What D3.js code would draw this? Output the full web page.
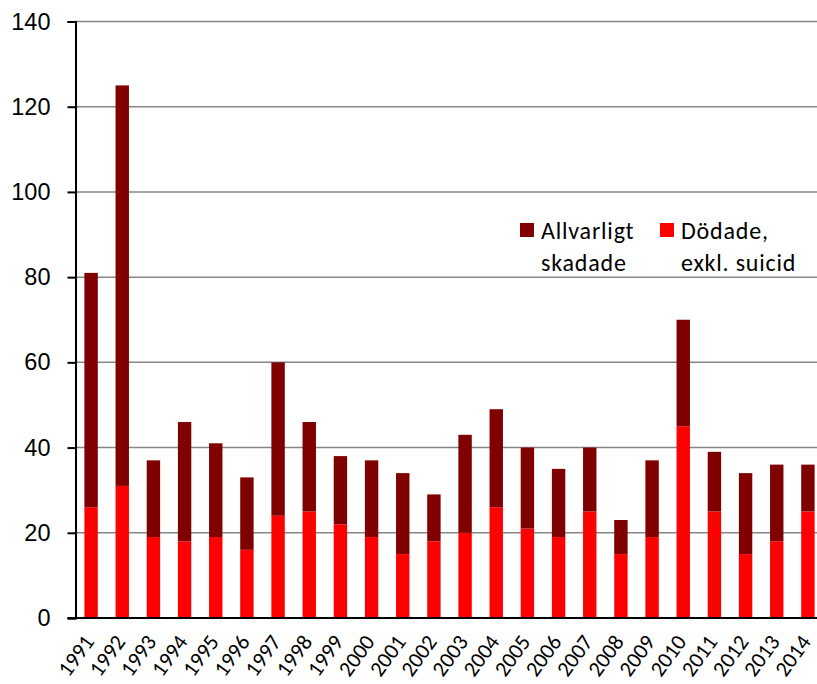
<!DOCTYPE html>
<html>
<head>
<meta charset="utf-8">
<script src="https://cdn.jsdelivr.net/npm/d3@7"></script>
<style>
  body { margin: 0; background: #fff; }
  svg { display: block; font-family: Carlito, "Open Sans", "Noto Sans", sans-serif; }
</style>
</head>
<body>
<svg id="chart" width="817" height="684"></svg>
<script>
// years on the x axis
var years = ["1991","1992","1993","1994","1995","1996","1997","1998","1999","2000",
             "2001","2002","2003","2004","2005","2006","2007","2008","2009","2010",
             "2011","2012","2013","2014"];
// killed, excluding suicide (bottom segment)
var dodade = [26, 31, 19, 18, 19, 16, 24, 25, 22, 19, 15, 18, 20, 26, 21, 19, 25, 15, 19, 45, 25, 15, 18, 25];
// seriously injured (stacked on top)
var allvarligt = [55, 94, 18, 28, 22, 17, 36, 21, 16, 18, 19, 11, 23, 23, 19, 16, 15, 8, 18, 25, 14, 19, 18, 11];
var yTicks = [0, 20, 40, 60, 80, 100, 120, 140];

var svg = d3.select("#chart");
var margin = { top: 21.5, left: 75.5, bottom: 66, right: -6.5 };
var width = 817 - margin.left - margin.right,
    height = 684 - margin.top - margin.bottom;

var x = d3.scaleBand().domain(years).range([0, width]).paddingInner(0.57).paddingOuter(0.285);
var y = d3.scaleLinear().domain([0, 140]).range([height, 0]);

var g = svg.append("g").attr("transform", "translate(" + margin.left + "," + margin.top + ")");

// gridlines
g.selectAll(".grid").data(yTicks.slice(1)).enter().append("line")
    .attr("x1", 0).attr("x2", width)
    .attr("y1", d => y(d)).attr("y2", d => y(d))
    .attr("stroke", "#868686").attr("stroke-width", 1.5);

var rows = years.map((yr, i) => ({ year: yr, dodade: dodade[i], allvarligt: allvarligt[i] }));
var stack = d3.stack().keys(["dodade", "allvarligt"])(rows);
var colors = { dodade: "#ff0000", allvarligt: "#800000" };

g.selectAll(".series").data(stack).enter().append("g")
    .attr("fill", d => colors[d.key])
  .selectAll("rect").data(d => d).enter().append("rect")
    .attr("x", d => x(d.data.year))
    .attr("width", x.bandwidth())
    .attr("y", d => y(d[1]))
    .attr("height", d => y(d[0]) - y(d[1]));

// y axis
var yAxis = g.append("g").call(d3.axisLeft(y).tickValues(yTicks).tickSize(8).tickPadding(17));
yAxis.select(".domain").attr("stroke", "#000").attr("stroke-width", 2);
yAxis.selectAll(".tick line").attr("stroke", "#000").attr("stroke-width", 2);
yAxis.selectAll(".tick text").attr("font-size", 23.5).attr("fill", "#000").attr("font-family", null);

// x axis baseline
g.append("line").attr("x1", -8).attr("x2", width).attr("y1", y(0)).attr("y2", y(0))
    .attr("stroke", "#000").attr("stroke-width", 2);

// x labels, rotated
g.selectAll(".xlab").data(years).enter().append("text")
    .attr("transform", d => "translate(" + (x(d) + x.bandwidth() / 2 + 4) + "," + (height + 24) + ") rotate(-54)")
    .attr("text-anchor", "end")
    .attr("font-size", 22)
    .text(d => d);

// legend
var legend = [
  { key: "allvarligt", lines: ["Allvarligt", "skadade"], x: 520 },
  { key: "dodade", lines: ["Dödade,", "exkl. suicid"], x: 660 }
];
var lg = svg.selectAll(".legend").data(legend).enter().append("g")
    .attr("transform", d => "translate(" + d.x + ",223)");
lg.append("rect").attr("width", 14).attr("height", 14).attr("fill", d => colors[d.key]);
lg.append("text").attr("font-size", 24).attr("letter-spacing", 0.8)
  .selectAll("tspan").data(d => d.lines).enter().append("tspan")
    .attr("x", 21).attr("y", (d, i) => 16 + i * 32)
    .text(d => d);
</script>
</body>
</html>
